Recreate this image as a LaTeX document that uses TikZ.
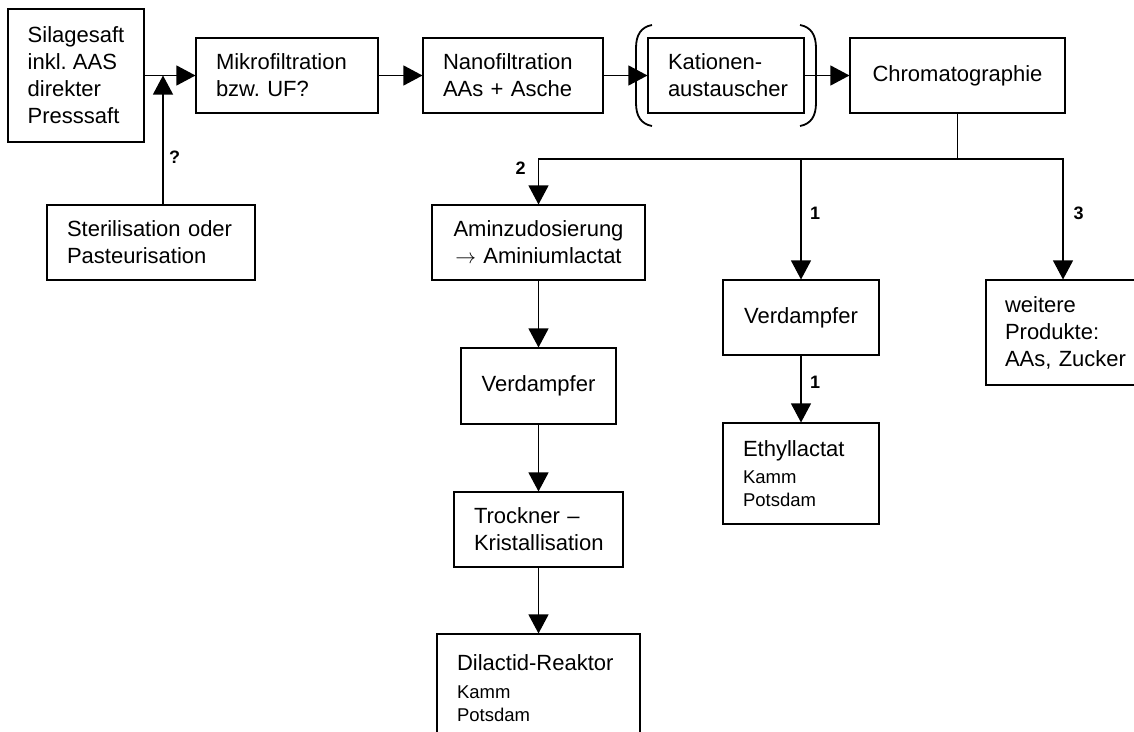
\documentclass[tikz,border=0pt]{standalone}
\usepackage{fontspec}
\setmainfont{Liberation Sans}
\usetikzlibrary{arrows.meta}
\hyphenpenalty=10000
\exhyphenpenalty=10000
\frenchspacing
\tikzset{
  base/.style={draw, line width=1.1pt, font=\fontsize{22}{27}\selectfont, inner ysep=0pt, inner xsep=20pt},
  lbox/.style={base, align=left},
  cbox/.style={base, align=center},
  conn/.style={line width=1.1pt},
  arr/.style={conn, -{Triangle[length=19pt,width=20pt]}},
  lab/.style={font=\bfseries\fontsize{18}{20}\selectfont, inner sep=0pt},
  paren/.style={line width=1.8pt},
}
\newcommand{\smalltxt}{\fontsize{18.5}{23.5}\selectfont}
\begin{document}
\begin{tikzpicture}[x=1pt,y=-1pt]
\useasboundingbox (0,0) rectangle (1134,731);
\fill[white] (0,0) rectangle (1134,731);
\clip (0,0) rectangle (1134,731);

% boxes
\node[lbox, inner xsep=0pt, minimum width=136pt, minimum height=133pt] (sil) at (76,75.5) {Silagesaft\\inkl. AAS\\direkter\\Presssaft};
\node[lbox, text width=142pt, minimum height=75pt] (mik) at (287,75.5) {Mikrofiltration\\bzw. UF?};
\node[lbox, text width=168pt, minimum height=75pt] (ster) at (151,242.5) {Sterilisation oder\\Pasteurisation};
\node[lbox, text width=140pt, minimum height=75pt] (nano) at (513,75.5) {Nanofiltration\\AAs + Asche};
\node[lbox, text width=116pt, minimum height=75pt] (kat) at (726,75.5) {Kationen-\\austauscher};
\node[cbox, text width=175pt, minimum height=75pt] (chrom) at (957.5,75.5) {Chromatographie};
\node[cbox, text width=173pt, minimum height=75pt] (amin) at (538.5,242.5) {Aminzudosierung\\$\rightarrow$ Aminiumlactat};
\node[cbox, text width=115pt, minimum height=76pt] (verd2) at (538.5,386) {Verdampfer};
\node[lbox, text width=129pt, minimum height=75pt] (troc) at (538.5,529.5) {Trockner --\\Kristallisation};
\node[lbox, text width=163pt, minimum height=108pt] (dil) at (538.5,688) {Dilactid-Reaktor\\[4pt]\smalltxt Kamm\\[-4pt]Potsdam};
\node[cbox, text width=116pt, minimum height=75pt] (verd1) at (801,317.5) {Verdampfer};
\node[lbox, text width=116pt, minimum height=101pt] (eth) at (801,473.5) {Ethyllactat\\[4pt]\smalltxt Kamm\\[-4pt]Potsdam};
\node[lbox, text width=126pt, inner xsep=19pt, minimum height=105pt] (wei) at (1068,332.5) {weitere\\Produkte:\\AAs, Zucker};

% brackets round the cation exchanger
\draw[paren] (652,25) .. controls (641,27) and (636,35) .. (636,48) -- (636,103) .. controls (636,116) and (641,124) .. (652,126);
\draw[paren] (800,25) .. controls (811,27) and (816,35) .. (816,48) -- (816,103) .. controls (816,116) and (811,124) .. (800,126);

% connectors
\coordinate (j1) at (163,75.5);
\coordinate (split) at (957.5,159);
\coordinate (c3) at (1063,159);
\coordinate (w3) at (c3 |- wei.north);

\draw[arr] (sil.east) -- (mik.west);
\draw[arr] (ster.north -| j1) -- (j1);
\draw[arr] (mik.east) -- (nano.west);
\draw[arr] (nano.east) -- (kat.west);
\draw[arr] (kat.east) -- (chrom.west);
\draw[conn] (chrom.south) -- (split);
\draw[arr] (split) -| (amin.north);
\draw[arr] (split) -| (verd1.north);
\draw[arr] (split) -- (c3) -- (w3);
\draw[arr] (amin.south) -- (verd2.north);
\draw[arr] (verd2.south) -- (troc.north);
\draw[arr] (troc.south) -- (dil.north);
\draw[arr] (verd1.south) -- (eth.north);

% labels
\node[lab] (lq) at (174.5,157.5) {?};
\node[lab] (l2) at (520.5,168.5) {2};
\node[lab] (l1a) at (815,213.5) {1};
\node[lab] (l3) at (1078.5,213.5) {3};
\node[lab] (l1b) at (815,382.5) {1};
\end{tikzpicture}
\end{document}
